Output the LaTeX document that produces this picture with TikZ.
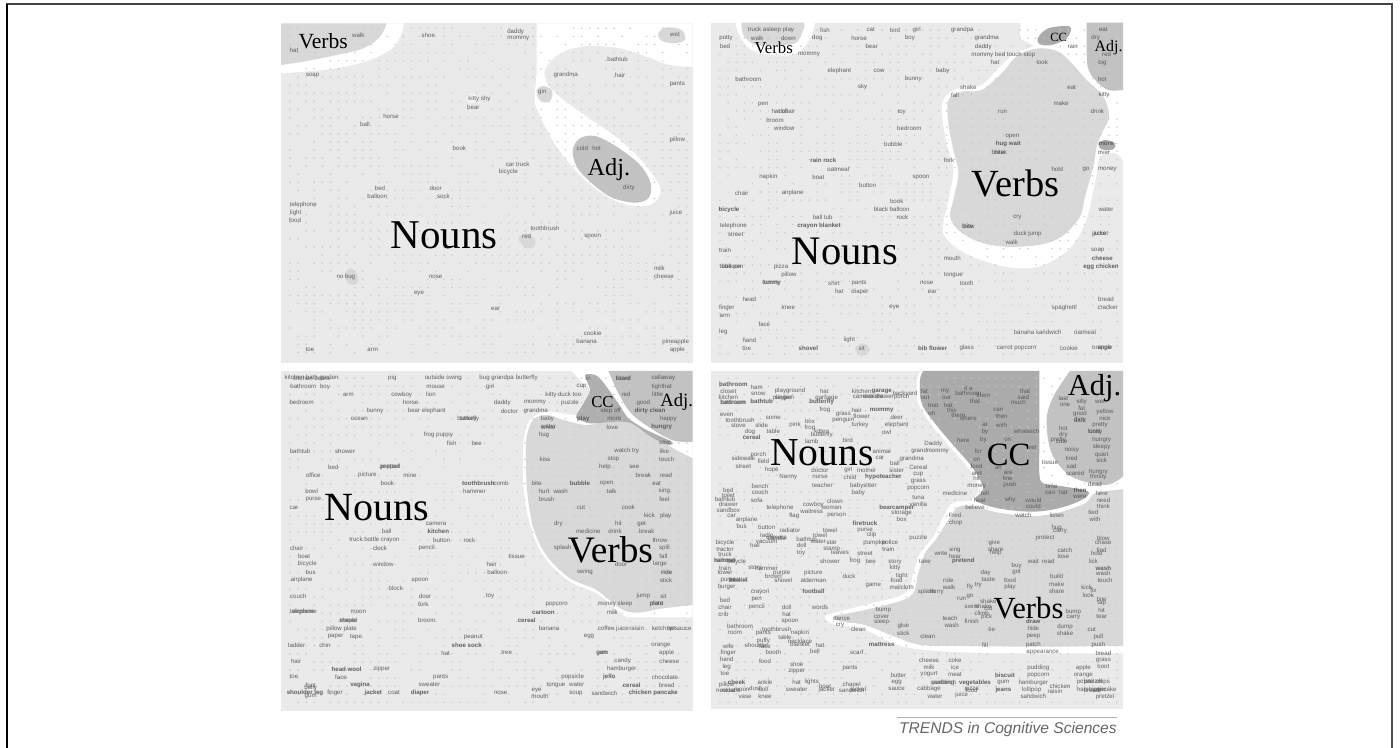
\documentclass[tikz,border=0pt]{standalone}
\usepackage{fontspec}
\setmainfont{Liberation Serif}
\newfontfamily\wordfont{Liberation Sans}
\definecolor{panelgray}{HTML}{EAEAEA}
\definecolor{verbgray}{HTML}{D8D8D8}
\definecolor{adjgray}{HTML}{C2C2C2}
\definecolor{ccgray}{HTML}{ABABAB}
\definecolor{dotgray}{HTML}{C8C8C8}
\definecolor{wordgray}{HTML}{505050}
\definecolor{capgray}{HTML}{666666}
\tikzset{
  zoomA/.style={shift={(270,10)},x=.25pt,y=-.25pt},
  zoomB/.style={shift={(705,10)},x=.25pt,y=-.25pt},
  zoomC/.style={shift={(270,360)},x=.25pt,y=-.25pt},
  zoomD/.style={shift={(705,360)},x=.25pt,y=-.25pt},
  wd/.style={font=\wordfont\fontsize{4.6pt}{5pt}\selectfont,text=wordgray,inner sep=0pt,opacity=.9},
  big/.style={font=\fontsize{#1pt}{#1pt}\selectfont,text=black,anchor=base west,inner sep=0pt},
  sm/.style={smooth,tension=.55},
  smc/.style={smooth cycle,tension=.55}
}
\newcommand{\putdots}[5]{% seed, xfirst, xlast, yfirst, ylast
  \pgfmathsetseed{#1}
  \pgfmathsetmacro{\xn}{int((#3-#2)/24.3)}
  \pgfmathsetmacro{\yn}{int((#5-#4)/24.3)}
  \foreach \i in {0,...,\xn}{\foreach \j in {0,...,\yn}{
     \pgfmathrandominteger{\rr}{0}{99}
     \ifnum\rr<58\relax
       \fill[dotgray] (#2+24.3*\i,#4+24.3*\j) circle[radius=2.5];
     \fi
  }}
}
\begin{document}
\begin{tikzpicture}[x=.75pt,y=-.75pt]
\useasboundingbox (0,0) rectangle (1400,748);
\fill[white] (0,0) rectangle (1400,748);
\draw[line width=1.5pt,black!75] (6,4.5) -- (1393,4.5);
\draw[line width=1.6pt,black] (7,4) -- (7,748);
\draw[line width=1.5pt,black!70] (1392,4) -- (1392,748);

% ------------ Panel A
\begin{scope}[zoomA]
\fill[panelgray] (33,40) rectangle (1268,1058);
\begin{scope}
\clip (33,40) rectangle (1268,1058);
\fill[white] (33,40) -- (400,40) -- plot[sm] coordinates {(400,55) (372,110) (300,150) (200,175) (100,185) (33,190)} -- cycle;
\fill[verbgray] (33,40) -- (348,40) -- plot[sm] coordinates {(348,45) (330,80) (280,115) (200,135) (100,155) (33,165)} -- cycle;
\fill[white] (800,40) -- (1268,40) -- plot[sm] coordinates {(1268,170) (1200,165) (1130,140) (1050,115) (950,108) (870,130) (825,180) (835,225) (880,270) (950,320) (1050,390) (1130,470) (1172,540) (1140,585) (1050,578) (950,515) (860,410) (800,295) (795,250) (800,190)} -- cycle;
\fill[verbgray] plot[smc] coordinates {(1165,70) (1190,52) (1235,60) (1245,90) (1210,100) (1175,92)};
\fill[verbgray] plot[smc] coordinates {(800,240) (820,228) (845,240) (845,265) (825,278) (805,265)};
\fill[adjgray] plot[smc] coordinates {(908,420) (930,385) (975,378) (1040,410) (1110,465) (1142,520) (1135,565) (1090,578) (1020,560) (960,515) (920,470)};
\fill[verbgray] plot[smc] coordinates {(745,685) (770,670) (795,690) (790,712) (765,712)};
\fill[verbgray] plot[smc] coordinates {(225,790) (245,775) (265,800) (258,822) (235,820)};
\fill[white!50!panelgray] plot[smc] coordinates {(590,262) (605,250) (625,262) (615,278) (595,276)};
\end{scope}
\putdots{11}{60}{1260}{55}{1045}
\foreach \px/\py/\tx in {265/75/walk,72/122/hat,475/75/shoe,737/65/daddy,745/86/mommy,1043/148/bathtub,1215/75/wet,887/196/grandma,1050/196/hair,1222/222/pants,128/196/soap,817/245/gin,628/268/kitty shy,610/292/bear,363/318/horse,285/342/ball,568/415/book,1222/390/pillow,937/415/cold,980/415/hot,743/463/car truck,715/487/bicycle,1077/535/dirty,330/535/bed,322/559/balloon,497/535/door,520/559/sock,100/584/telephone,77/608/light,75/632/food,1218/608/juice,825/656/toothbrush,770/680/red,968/680/spoon,1168/776/milk,1182/800/cheese,210/800/no,240/800/bug,497/800/nose,447/850/eye,677/898/ear,968/970/cookie,950/995/banana,120/1020/toe,308/1020/arm,1217/995/pineapple,1222/1020/apple}
  \node[wd] (a\px-\py) at (\px,\py) {\tx};
\node[big=30.7] (nounsA) at (362,715) {Nouns};
\node[big=16.2] (verbsA) at (85,115) {Verbs};
\node[big=18.3] (adjA) at (952,497) {Adj.};
\end{scope}

% ------------ Panel B
\begin{scope}[zoomB]
\fill[panelgray] (18,38) rectangle (1254,1058);
\begin{scope}
\clip (18,38) rectangle (1254,1058);
\fill[white] plot[sm] coordinates {(92,38) (105,80) (150,125) (260,135) (310,95) (330,38)} -- cycle;
\fill[verbgray] plot[sm] coordinates {(110,38) (115,75) (150,105) (200,105) (270,100) (295,60) (298,38)} -- cycle;
\fill[white] (948,38) -- plot[sm] coordinates {(948,38) (948,85) (985,108) (930,130) (880,175) (830,225) (770,232) (725,255) (710,300) (725,400) (745,480) (730,570) (715,640) (720,680) (780,730) (900,770) (1000,770) (1090,720) (1140,640) (1170,520) (1185,440) (1230,430) (1254,450)} -- (1254,38) -- cycle;
\fill[verbgray] plot[smc] coordinates {(1000,115) (1060,125) (1105,165) (1140,205) (1195,260) (1212,320) (1190,370) (1175,410) (1165,470) (1140,560) (1125,620) (1070,680) (1000,705) (900,710) (820,695) (760,660) (735,620) (745,570) (760,490) (745,420) (730,340) (730,270) (770,245) (830,240) (890,190) (940,135)};
\fill[adjgray] (1145,38) -- (1254,38) -- (1254,240) -- plot[sm] coordinates {(1254,240) (1210,240) (1170,210) (1148,170) (1145,100)} -- cycle;
\fill[ccgray] plot[smc] coordinates {(998,85) (1030,55) (1095,50) (1085,85) (1040,105) (1005,103)};
\fill[ccgray] plot[smc] coordinates {(1180,402) (1200,390) (1230,400) (1225,418) (1190,418)};
\fill[verbgray] plot[smc] coordinates {(450,1015) (475,1000) (495,1020) (470,1038)};
\end{scope}
\putdots{23}{45}{1245}{60}{1040}
\foreach \px/\py/\tx in {198/60/truck asleep play,360/60/fish,497/60/cat,570/60/bird,635/60/girl,772/60/grandpa,63/85/potty,157/85/walk,250/85/down,337/85/dog,462/85/horse,615/85/boy,845/85/grandma,60/110/bed,500/110/bear,835/110/daddy,312/134/mommy,895/134/mommy bed touch stop,1103/110/rain,1195/60/eat,1172/85/dry,1205/134/red,1192/158/big,1192/207/hot,870/158/hat,1012/158/look,403/183/elephant,522/183/cow,713/183/baby,130/207/bathroom,625/207/bunny,473/232/sky,790/232/shake,1100/232/eat,750/256/fall,1197/256/kitty,175/282/pen,235/305/doll,235/305/hat chair,210/330/broom,238/354/window,590/305/toy,613/354/bedroom,893/305/run,1177/305/drink,1068/281/make,922/378/open,910/403/\bfseries hug wait,883/428/bite,883/428/break,565/403/bubble,1203/403/\bfseries more,1197/428/over,355/452/\bfseries rain rock,732/452/fork,400/477/oatmeal,1057/477/hold,1143/477/go,1207/477/money,190/501/napkin,340/501/boat,648/501/spoon,488/526/button,110/550/chair,263/550/airplane,575/575/book,72/599/\bfseries bicycle,560/599/black balloon,1203/599/water,353/623/ball tub,592/623/rock,937/623/cry,85/648/telephone,342/648/\bfseries crayon blanket,790/648/bite,790/648/blow,92/673/street,968/673/duck jump,920/697/walk,1185/673/jacket,1185/673/juice,60/721/train,1178/721/soap,742/745/mouth,1192/745/\bfseries cheese,80/770/balloon,80/770/tube pen,228/770/pizza,1188/770/\bfseries egg chicken,252/795/pillow,745/795/tongue,200/820/bunny,200/820/tummy,387/820/shirt,462/820/pants,665/820/nose,785/820/tooth,403/845/hat,465/845/diaper,682/845/ear,133/869/head,1203/869/bread,65/893/finger,250/893/knee,568/893/eye,1078/893/spaghetti,1208/893/cracker,60/917/arm,178/942/face,55/966/leg,998/966/banana sandwich,1140/966/oatmeal,133/990/hand,433/990/light,125/1015/toe,310/1015/\bfseries shovel,470/1015/sit,683/1015/\bfseries bib flower,785/1015/glass,935/1015/carrot popcorn,1092/1015/cookie,1190/1015/orange,1200/1015/apple}
  \node[wd] (b\px-\py) at (\px,\py) {\tx};
\node[big=30.4] (nounsB) at (260,765) {Nouns};
\node[big=28.8] (verbsB) at (800,560) {Verbs};
\node[big=12.6] (verbsB2) at (148,132) {Verbs};
\node[big=9.4] (ccB) at (1035,95) {CC};
\node[big=12] (adjB) at (1168,125) {Adj.};
\end{scope}

% ------------ Panel C
\begin{scope}[zoomC]
\fill[panelgray] (33,33) rectangle (1268,1052);
\begin{scope}
\clip (33,33) rectangle (1268,1052);
\fill[white] (905,33) -- plot[sm] coordinates {(905,33) (940,70) (958,90) (925,150) (915,165) (830,155) (780,180) (760,250) (762,400) (788,520) (830,600) (900,665) (980,700) (1040,750) (1070,772)} -- (1268,772) -- (1268,33) -- cycle;
\fill[verbgray] (1268,295) -- plot[sm] coordinates {(1268,295) (1210,265) (1150,230) (1090,190) (1020,182) (950,195) (880,180) (830,165) (790,178) (770,230) (768,300) (772,400) (792,510) (832,590) (900,655) (980,690) (1050,745) (1100,758) (1180,745) (1268,735)} -- cycle;
\fill[adjgray] (1015,33) -- (1268,33) -- (1268,245) -- plot[sm] coordinates {(1268,245) (1205,240) (1120,190) (1075,150) (1040,90)} -- cycle;
\fill[adjgray!90!black] plot[smc,tension=.4] coordinates {(945,45) (985,50) (1045,130) (1075,175) (1130,210) (1205,245) (1200,255) (1150,235) (1085,190) (1040,185) (960,190) (918,172) (940,130) (960,90)};
\end{scope}
\putdots{37}{60}{1260}{55}{1040}
\foreach \px/\py/\tx in {125/55/kitchen bath garden,125/55/kitchen zebra,367/55/pig,520/55/outside swing,680/55/bug grandpa,770/55/butterfly,955/55/in,1060/55/travel,1060/55/lizard,1180/55/callaway,100/80/bathroom,165/80/boy,497/80/mouse,660/80/girl,935/80/cup,1175/80/tighthat,235/104/arm,395/104/cowboy,483/104/lion,880/104/kitty duck too,1068/104/red,1163/104/little,95/128/bedroom,422/128/horse,697/128/daddy,795/128/mommy,900/128/puzzle,1120/128/good,315/153/bunny,470/153/bear elephant,718/153/doctor,797/153/grandma,1022/153/step off,1140/153/\bfseries dirty clean,268/177/ocean,595/177/butterfly,595/177/turkey,832/177/baby,940/177/\bfseries play,1033/177/more,1195/177/happy,835/201/water,835/201/white,1027/201/love,1175/201/\bfseries hungry,505/226/frog puppy,822/226/hug,545/250/fish,620/250/bee,1185/250/stop,90/274/bathtub,225/274/shower,1070/274/watch try,1183/274/like,825/298/kiss,1030/298/stop,1190/298/touch,190/322/bed,360/322/popped,360/322/pretzel,1005/322/help,1093/322/see,130/346/office,292/346/picture,420/346/mine,1120/346/break,1188/346/read,352/370/book,625/370/\bfseries toothbrush,693/370/comb,800/370/bite,930/370/\bfseries bubble,1010/370/open,1160/370/eat,125/394/bowl,613/394/hammer,822/394/hurt,872/394/wash,1025/394/talk,1183/394/sing,130/419/purse,830/419/brush,1183/419/feel,72/443/car,933/443/cut,1075/443/cook,1138/467/kick,1187/467/play,498/491/camera,865/491/dry,1045/491/hit,1115/491/get,350/515/ball,505/515/\bfseries kitchen,955/515/medicine,1035/515/drink,1130/515/break,313/540/truck bottle crayon,515/540/button,598/540/rock,1170/540/throw,80/564/chair,330/564/clock,470/564/pencil,878/564/splash,1183/564/spill,102/588/boat,740/588/tissue,1180/588/fall,112/612/bicycle,340/612/window,665/612/hair,1053/612/door,1170/612/large,122/637/bus,682/637/balloon,945/637/swing,1190/637/\bfseries ride,95/660/airplane,450/660/spoon,1188/660/stick,377/685/block,85/709/couch,465/709/door,660/709/toy,1120/709/jump,1180/709/sit,460/733/fork,860/733/popcorn,1035/733/money sleep,1160/733/plate,1160/733/plant,100/757/telephone,100/757/airplane,265/757/moon,820/757/\bfseries cartoon,1027/757/milk,235/782/shovel,235/782/maple,470/782/broom,770/782/\bfseries cereal,215/806/pillow plate,837/806/banana,1030/806/coffee juice,1100/806/raisin,1205/806/ketchup sauce,1205/806/hot,197/830/paper,258/830/tape,610/830/peanut,957/830/egg,80/855/ladder,165/855/chin,590/855/\bfseries shoe sock,1173/855/orange,527/879/hat,710/879/tree,997/879/gum,997/879/jam,1190/879/apple,1058/903/candy,1198/903/cheese,78/903/hair,230/927/\bfseries head wool,335/927/zipper,1055/927/hamburger,72/951/toe,213/951/face,512/951/pants,908/951/popsicle,1018/951/\bfseries jello,1185/951/chocolate,122/975/foot,270/975/\bfseries vagina,478/975/sweater,858/975/tongue,920/975/water,1085/975/\bfseries cereal,1190/975/bread,105/999/\bfseries shoulder leg,195/999/finger,310/999/\bfseries jacket,372/999/coat,450/999/\bfseries diaper,692/999/nose,800/990/eye,918/999/soup,1003/999/sandwich,1150/999/\bfseries chicken pancake,810/1010/mouth,122/985/belly,122/1008/gum}
  \node[wd] (c\px-\py) at (\px,\py) {\tx};
\node[big=30] (nounsC) at (162,480) {Nouns};
\node[big=28] (verbsC) at (893,607) {Verbs};
\node[big=12.5] (ccC) at (963,143) {CC};
\node[big=14] (adjC) at (1170,140) {Adj.};
\end{scope}

% ------------ Panel D
\begin{scope}[zoomD]
\fill[panelgray] (18,33) rectangle (1254,1048);
\begin{scope}
\clip (18,33) rectangle (1254,1048);
\fill[white] (645,33) -- plot[sm] coordinates {(645,33) (635,70) (640,130) (680,195) (730,255) (790,325) (820,380) (800,420) (745,428) (715,470) (685,530) (645,580) (625,640) (600,700) (500,730) (420,750) (360,770) (390,795) (470,805) (560,848) (640,868) (800,878) (1000,880) (1254,880)} -- (1254,33) -- cycle;
\fill[verbgray] (1254,388) -- plot[sm] coordinates {(1254,388) (1170,400) (1140,430) (1060,458) (985,468) (880,458) (810,440) (760,440) (730,480) (695,535) (660,580) (640,640) (615,710) (500,745) (430,760) (385,770) (410,785) (480,795) (570,830) (650,855) (800,858) (1000,860) (1254,858)} -- cycle;
\fill[ccgray] (1003,33) -- (1003,270) -- plot[sm] coordinates {(1003,270) (1003,340) (1015,370) (1080,380) (1150,395) (1130,420) (1060,445) (980,455) (880,445) (810,420) (835,385) (800,320) (740,250) (690,190) (650,130) (645,60) (655,33)} -- cycle;
\fill[adjgray] (1095,33) -- (1254,33) -- (1254,350) -- plot[sm] coordinates {(1254,350) (1200,375) (1100,350) (1040,280) (1025,180) (1045,110) (1095,33)} -- cycle;
\end{scope}
\putdots{41}{45}{1245}{55}{1035}
\foreach \px/\py/\tx in {85/73/\bfseries bathroom,155/83/ham,70/93/closet,160/103/snow,255/93/playground,358/93/hat,470/93/kitchen,530/93/\bfseries garage,600/103/backyard,658/93/fat,720/95/my,790/85/it a,790/100/bathroom,960/93/that,70/113/kitchen,85/128/bathroom,85/128/bedroom,170/125/\bfseries bathtub,235/113/playpen,235/113/singer,365/115/garbage,350/127/\bfseries butterfly,505/110/camera drawer,505/110/outside,590/112/porch,660/112/out,725/115/our,810/125/that,835/105/them,955/113/said,940/127/much,360/150/frog,455/150/hair,530/150/\bfseries mommy,65/165/even,105/182/toothbrush,205/175/some,415/162/grass,470/170/flower,685/137/that,730/135/hat,680/160/oh,740/150/this,760/165/there,790/175/where,880/150/can,890/170/then,100/198/stove,170/195/slide,270/195/pink,315/185/box,415/180/penguin,465/195/turkey,575/172/deer,575/195/elephant,205/215/table,135/215/dog,315/205/frog,350/215/kitten,350/225/butterfly,545/218/owl,840/195/at,890/195/with,965/215/whatwich,140/232/\bfseries cereal,320/245/lamb,428/240/bird,840/215/by,775/240/here,835/240/by,908/240/on,685/253/Daddy,675/273/grandmommy,620/296/grandma,530/275/animal,160/285/porch,115/296/sidewalk,115/320/street,175/305/field,525/295/car,570/310/ball,575/330/sister,200/330/hope,345/330/doctor,430/330/girl,485/330/mother,640/323/Cereal,640/343/cup,640/363/grass,250/352/Nanny,345/352/nurse,435/352/child,535/352/\bfseries hypoteacher,352/375/teacher,475/378/babysitter,460/398/baby,165/378/bench,70/390/bed,165/398/couch,70/405/toilet,60/418/bathtub,155/420/sofa,640/385/popcorn,640/412/tuna,640/432/vanilla,390/423/clown,325/435/cowboy,70/432/drawer,380/445/woman,70/452/sandbox,225/445/telephone,320/455/waitress,575/445/\bfseries bearcamper,590/458/storage,80/468/car,268/467/flag,395/467/person,125/480/airplane,590/478/box,480/490/\bfseries firetruck,110/498/bus,185/502/button,375/512/towel,255/512/radiator,480/510/purse,500/525/clip,345/525/towel,185/525/radio,215/535/camera,215/535/candle,305/537/bathtub,340/545/water,185/547/vacuum,150/555/hall,60/550/bicycle,510/548/pumpkin,555/548/police,290/555/doll,380/547/star,380/568/stamp,640/535/puzzle,550/568/train,60/570/tractor,60/582/truck,288/578/toy,405/578/leaves,480/580/street,375/603/shower,450/603/frog,497/603/bee,570/605/story,60/602/hammer,60/602/railroad,95/605/bicycle,570/625/kitty,60/625/train,150/625/story,185/625/hammer,60/637/tower,230/640/purple,325/638/picture,205/648/brown,235/660/shovel,325/660/alderman,432/650/duck,505/675/game,590/648/tight,575/660/food,590/682/mailcloth,70/660/purse,100/660/basket,100/660/peanut,65/682/burger,165/697/crayon,325/695/\bfseries football,60/720/bed,155/718/pen,60/742/chair,155/740/pencil,245/742/doll,345/742/words,55/762/crib,245/762/hat,255/785/spoon,105/798/bathroom,90/820/room,175/820/pants,215/808/toothbrush,285/820/napkin,240/832/table,175/843/puffy,70/860/wife,155/855/shoulder,285/843/necklace,285/852/blanket,345/855/hat,530/855/\bfseries mattress,70/878/finger,180/860/face,205/878/booth,330/875/bell,455/878/scarf,65/898/hand,180/905/food,65/920/leg,275/912/shoe,275/932/zipper,435/923/pants,60/942/toe,95/967/\bfseries cheek,180/968/ankle,275/968/hat,320/965/lights,65/975/pillow,360/978/boat,440/975/chapel,440/990/sandwich,460/990/jacket,70/992/nose,70/992/necklace,110/990/moon,150/985/dust,175/988/doll,275/990/sweater,365/990/jacket,120/1010/vase,180/1010/knee,580/947/butter,575/968/egg,575/988/sauce,672/902/cheese,672/922/milk,672/943/yogurt,750/902/coke,750/922/ice,750/943/meat,715/968/pudding,715/968/sandwich,672/988/cabbage,690/1010/water,810/968/\bfseries vegetables,800/988/pizza,800/990/food,770/1005/juice,900/947/\bfseries biscuit,895/968/gum,895/990/\bfseries jeans,985/968/hamburger,980/990/lollipop,985/1010/sandwich,1065/980/chicken,1050/995/raisin,1000/925/pudding,1000/945/popcorn,1135/925/apple,1135/945/orange,1165/966/potato chips,1165/966/pretzel,1160/990/bread,1160/990/hamburger,1200/990/pancake,1200/1010/pretzel,1195/880/bread,1195/900/grass,1195/920/boot,750/400/medicine,840/400/tell,815/378/money,825/420/hear,915/420/why,985/420/would,985/440/could,810/442/believe,955/467/watch,1055/467/listen,908/355/fine,915/375/push,910/340/are,880/325/an,815/300/on,820/275/for,815/320/food,815/340/and,815/355/hit,1040/378/time,1035/398/can,1075/398/hat,1125/390/\bfseries then,1125/410/were,980/262/wet,1035/308/tissue,1190/400/here,1195/420/need,1195/440/think,1165/457/tied,1170/478/with,1075/115/last,1080/135/one,1130/125/silly,1185/125/wet,1130/145/fat,1200/155/yellow,1125/163/good,1200/175/nice,1125/180/dirty,1125/180/dark,1185/195/pretty,1075/205/hot,1075/225/dry,1170/215/funny,1170/215/cold,1060/240/pretty,1070/245/cute,1190/240/hungry,1190/260/sleepy,1100/270/noisy,1190/285/quiet,1100/295/tired,1190/300/sick,1100/318/sad,1110/340/scared,1180/335/hungry,1180/352/thirsty,1170/372/dead,750/465/Fred,752/490/chop,868/548/give,872/568/share,872/580/help,1020/535/protect,1055/503/hug,1065/515/carry,1080/570/catch,1075/590/lose,1195/535/blow,1195/548/chase,1190/570/find,1175/580/hold,985/603/wait,1030/603/read,660/603/take,708/580/write,750/570/sing,750/590/hear,775/603/\bfseries pretend,935/618/buy,935/635/got,842/640/day,850/660/taste,915/660/food,915/682/play,1055/650/build,1055/672/make,1055/695/share,730/660/ride,732/682/walk,795/682/fly,820/675/try,665/695/splash,695/695/hurry,770/718/run,795/708/go,800/740/swim,835/740/shake,830/760/climb,800/785/finish,735/775/teach,740/795/wash,668/830/clean,860/808/tie,985/805/hide,985/830/peep,985/855/patch,1013/878/appearance,1080/800/dump,1080/820/shake,1160/810/cut,1180/830/pull,1180/855/push,1165/690/fix,1145/683/kick,1150/705/look,1105/755/bump,1105/772/carry,1190/718/bite,1190/730/tap,1190/750/hit,1190/770/tear,1195/625/\bfseries wash,1195/640/wash,1200/660/touch,535/750/bump,530/772/cover,530/785/sleep,410/775/dance,405/797/cry,460/808/clean,595/798/glue,595/820/stick,840/855/fill,850/725/shake,850/745/cut,845/770/pick,985/785/\bfseries draw,1165/603/lick}
  \node[wd] (d\px-\py) at (\px,\py) {\tx};
\node[big=29.7] (nounsD) at (195,315) {Nouns};
\node[big=24.4] (ccD) at (845,315) {CC};
\node[big=22.8] (adjD) at (1088,108) {Adj.};
\node[big=23] (verbsD) at (865,775) {Verbs};
\end{scope}

% ------------ Caption
\coordinate (capL) at (897,717);
\coordinate (capR) at (1117,717);
\draw[black!30,line width=.5pt] (capL) -- (capR);
\node[font=\wordfont\itshape\fontsize{11.7pt}{13pt}\selectfont,text=capgray,anchor=base east,inner sep=0pt] (caption) at (1117,733) {TRENDS in Cognitive Sciences};
\end{tikzpicture}
\end{document}
